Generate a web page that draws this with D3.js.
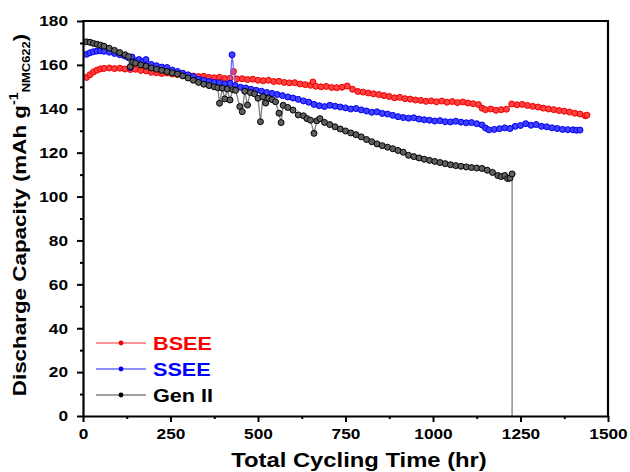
<!DOCTYPE html>
<html>
<head>
<meta charset="utf-8">
<script src="https://cdn.jsdelivr.net/npm/d3@7/dist/d3.min.js"></script>
<style>
  html, body { margin: 0; padding: 0; background: #fff; }
  svg { display: block; }
  text { font-family: Arial, "Liberation Sans", sans-serif; font-weight: bold; }
</style>
</head>
<body>
<svg id="chart" width="630" height="472"></svg>
<script>
// ---------------- DATA ----------------
const xTicks = [0, 250, 500, 750, 1000, 1250, 1500];
const xMinorTicks = [125, 375, 625, 875, 1125, 1375];
const yTicks = [0, 20, 40, 60, 80, 100, 120, 140, 160, 180];
const yMinorTicks = [10, 30, 50, 70, 90, 110, 130, 150, 170];
const seriesNames = ["BSEE", "SSEE", "Gen II"];

const bseeTime = [10,20,30,40,50,60,75,90,105,120,135,150,165,180,195,210,225,240,255,270,285,300,315,330,345,360,375,390,405,420,430,440,455,470,485,500,515,530,545,560,575,590,605,620,635,650,657,665,680,695,710,725,740,755,770,785,800,815,830,845,860,875,890,905,920,935,950,965,980,995,1010,1025,1040,1055,1070,1085,1100,1115,1130,1140,1150,1165,1180,1195,1210,1225,1240,1255,1270,1285,1300,1315,1330,1345,1360,1375,1390,1405,1420,1435,1440];
const bseeCap = [154.3,155.5,156.8,157.6,158.2,158.4,158.6,158.3,158.5,158.1,157.9,158.0,157.5,157.3,156.6,156.4,156.1,156.3,155.8,155.6,155.2,155.4,154.9,154.7,154.8,154.3,154.1,154.4,153.8,153.9,157.0,153.6,153.7,153.3,153.5,153.0,152.8,153.0,152.4,152.5,152.0,151.8,151.9,151.3,151.0,150.7,152.2,150.3,150.0,150.2,149.7,149.6,149.8,150.4,148.9,147.9,147.6,147.2,146.8,146.5,146.0,145.6,145.0,145.2,144.6,144.4,144.0,143.8,143.4,143.6,143.2,143.5,143.0,143.3,142.8,143.1,142.6,142.3,141.9,140.3,139.6,139.9,139.3,139.6,139.8,142.2,141.8,142.0,141.5,141.1,140.8,140.3,139.9,139.6,139.2,138.9,138.5,138.0,137.6,136.8,137.1];

const sseeTime = [10,20,30,40,50,60,75,90,105,120,130,135,140,150,160,170,180,195,210,225,240,255,270,285,300,315,330,345,360,375,390,405,420,426,435,450,465,480,495,510,525,540,555,570,585,600,615,630,645,660,675,690,705,720,735,750,765,780,795,810,825,840,855,870,885,900,915,930,945,960,975,990,1005,1020,1035,1050,1065,1080,1095,1110,1125,1140,1150,1160,1175,1190,1205,1220,1235,1250,1265,1280,1295,1310,1325,1340,1355,1370,1385,1400,1410,1420];
const sseeCap = [164.8,165.5,166.0,166.3,166.4,166.2,165.8,165.2,164.6,164.0,163.3,158.8,163.6,161.8,162.4,161.5,162.4,160.2,159.6,159.0,158.8,157.6,157.0,156.2,155.4,154.6,153.4,153.0,152.4,152.0,151.8,151.3,151.6,164.6,150.6,149.8,149.5,148.9,148.4,148.0,147.4,147.0,146.5,146.0,145.4,144.9,144.3,143.6,143.0,142.0,141.4,141.0,141.6,141.2,140.8,140.4,139.9,140.1,139.5,139.0,138.4,138.6,137.9,137.6,137.0,136.4,136.0,135.7,135.9,135.3,135.0,134.8,134.4,134.6,134.1,134.0,134.3,133.9,133.6,133.7,133.2,132.6,131.2,130.4,130.6,130.9,131.3,131.0,132.0,132.4,133.2,132.5,132.8,132.0,131.8,131.3,131.0,130.6,130.5,130.4,130.2,130.3];

const genTime = [10,20,30,40,50,60,75,90,105,120,130,135,142,150,165,180,195,210,225,240,255,270,285,300,315,330,345,360,375,385,390,398,405,412,420,428,436,448,455,462,470,478,490,500,507,514,522,530,540,550,560,566,572,585,600,615,630,640,650,660,668,677,690,705,720,735,750,765,780,795,810,825,840,855,870,885,900,915,930,945,960,975,990,1005,1020,1035,1050,1065,1080,1095,1110,1125,1140,1155,1170,1185,1195,1205,1213,1220,1226,1226];
const genCap = [170.5,170.3,169.8,169.4,169.0,168.5,167.6,166.6,165.6,164.6,163.8,159.2,161.2,160.8,160.0,159.4,158.6,158.0,157.5,157.0,156.4,155.8,155.0,154.0,153.0,152.0,151.2,150.6,150.0,149.6,142.5,149.4,144.5,149.0,144.0,148.7,148.4,141.0,138.7,148.0,141.7,147.4,146.8,144.8,134.1,145.5,142.6,144.8,144.2,143.2,138.0,133.7,141.6,140.6,139.4,137.2,136.8,135.5,134.8,128.8,134.5,135.5,133.8,132.8,131.8,130.8,129.9,129.0,128.2,127.2,126.0,125.0,124.0,123.2,122.5,121.8,121.0,120.2,118.8,118.2,117.6,117.0,116.5,116.0,115.5,115.0,114.5,114.1,113.8,113.5,113.2,113.0,112.8,112.0,111.0,109.6,109.1,109.6,108.2,108.4,110.3,0];

// ---------------- CHART ----------------
const svg = d3.select("#chart");
const x = d3.scaleLinear().domain([0, 1500]).range([83, 608]);
const y = d3.scaleLinear().domain([0, 180]).range([416, 21]);

const series = [
  { name: seriesNames[0], time: bseeTime, cap: bseeCap, line: "#ff7070", fill: "#ff4040", stroke: "#ee0000", text: "#ff0000" },
  { name: seriesNames[1], time: sseeTime, cap: sseeCap, line: "#6a6aff", fill: "#4040ff", stroke: "#0000ee", text: "#0000ff" },
  { name: seriesNames[2], time: genTime, cap: genCap, line: "#808080", fill: "#606060", stroke: "#000000", text: "#000000" }
];

const line = d3.line().x(d => x(d[0])).y(d => y(d[1]));

series.forEach(s => {
  const pts = s.time.map((t, i) => [t, s.cap[i]]);
  svg.append("path").datum(pts)
    .attr("fill", "none").attr("stroke", s.line).attr("stroke-width", 1.3)
    .attr("d", line);
  svg.append("g").selectAll("circle").data(pts.filter(p => p[1] > 0)).join("circle")
    .attr("cx", d => x(d[0])).attr("cy", d => y(d[1])).attr("r", 3)
    .attr("fill", s.fill).attr("stroke", s.stroke).attr("stroke-width", 1);
});

// axes
const fmt = d3.format("d");
const xAxis = svg.append("g").attr("transform", "translate(0,416)")
  .call(d3.axisBottom(x).tickValues(xTicks).tickFormat(fmt).tickSize(6).tickSizeOuter(0).tickPadding(6));
const xMinor = svg.append("g").attr("transform", "translate(0,416)")
  .call(d3.axisBottom(x).tickValues(xMinorTicks).tickSize(3).tickFormat(""));
xMinor.select(".domain").remove();

const yAxis = svg.append("g").attr("transform", "translate(83,0)")
  .call(d3.axisLeft(y).tickValues(yTicks).tickFormat(fmt).tickSize(6).tickSizeOuter(0).tickPadding(7));
const yMinor = svg.append("g").attr("transform", "translate(83,0)")
  .call(d3.axisLeft(y).tickValues(yMinorTicks).tickSize(3).tickFormat(""));
yMinor.select(".domain").remove();

[xAxis, yAxis, xMinor, yMinor].forEach(g => {
  g.selectAll("path.domain").attr("stroke", "#000").attr("stroke-width", 2.2);
  g.selectAll(".tick line").attr("stroke", "#000").attr("stroke-width", 2);
  g.selectAll(".tick text").attr("fill", "#000")
    .attr("transform", "scale(1.15,1)")
    .style("font-size", "15px").style("font-weight", "bold")
    .style("font-family", "Arial, 'Liberation Sans', sans-serif");
});

// top and right frame
svg.append("line").attr("x1", 82).attr("x2", 609).attr("y1", 21).attr("y2", 21)
  .attr("stroke", "#000").attr("stroke-width", 2.2);
svg.append("line").attr("x1", 608).attr("x2", 608).attr("y1", 21).attr("y2", 417)
  .attr("stroke", "#000").attr("stroke-width", 2.2);

// axis titles
svg.append("text").attr("transform", "translate(359,467) scale(1.19,1)").attr("text-anchor", "middle")
  .style("font-size", "20px").text("Total Cycling Time (hr)");

const yl = svg.append("text").attr("transform", "translate(26,215) rotate(-90) scale(1.18,1)")
  .attr("text-anchor", "middle").style("font-size", "19px");
yl.append("tspan").text("Discharge Capacity (mAh g");
yl.append("tspan").attr("dy", -8).style("font-size", "12px").text("-1");
yl.append("tspan").attr("dy", 12).style("font-size", "11px").text("NMC622");
yl.append("tspan").attr("dy", -4).text(")");

// legend
const legY = [343, 369, 395];
series.forEach((s, i) => {
  svg.append("line").attr("x1", 96).attr("x2", 146).attr("y1", legY[i]).attr("y2", legY[i])
    .attr("stroke", s.line).attr("stroke-width", 1.3);
  svg.append("circle").attr("cx", 121).attr("cy", legY[i]).attr("r", 2.4)
    .attr("fill", s.stroke);
  svg.append("text").attr("transform", `translate(153,${legY[i] + 7}) scale(1.14,1)`)
    .attr("fill", s.text).style("font-size", "19px").text(s.name);
});
</script>
</body>
</html>
